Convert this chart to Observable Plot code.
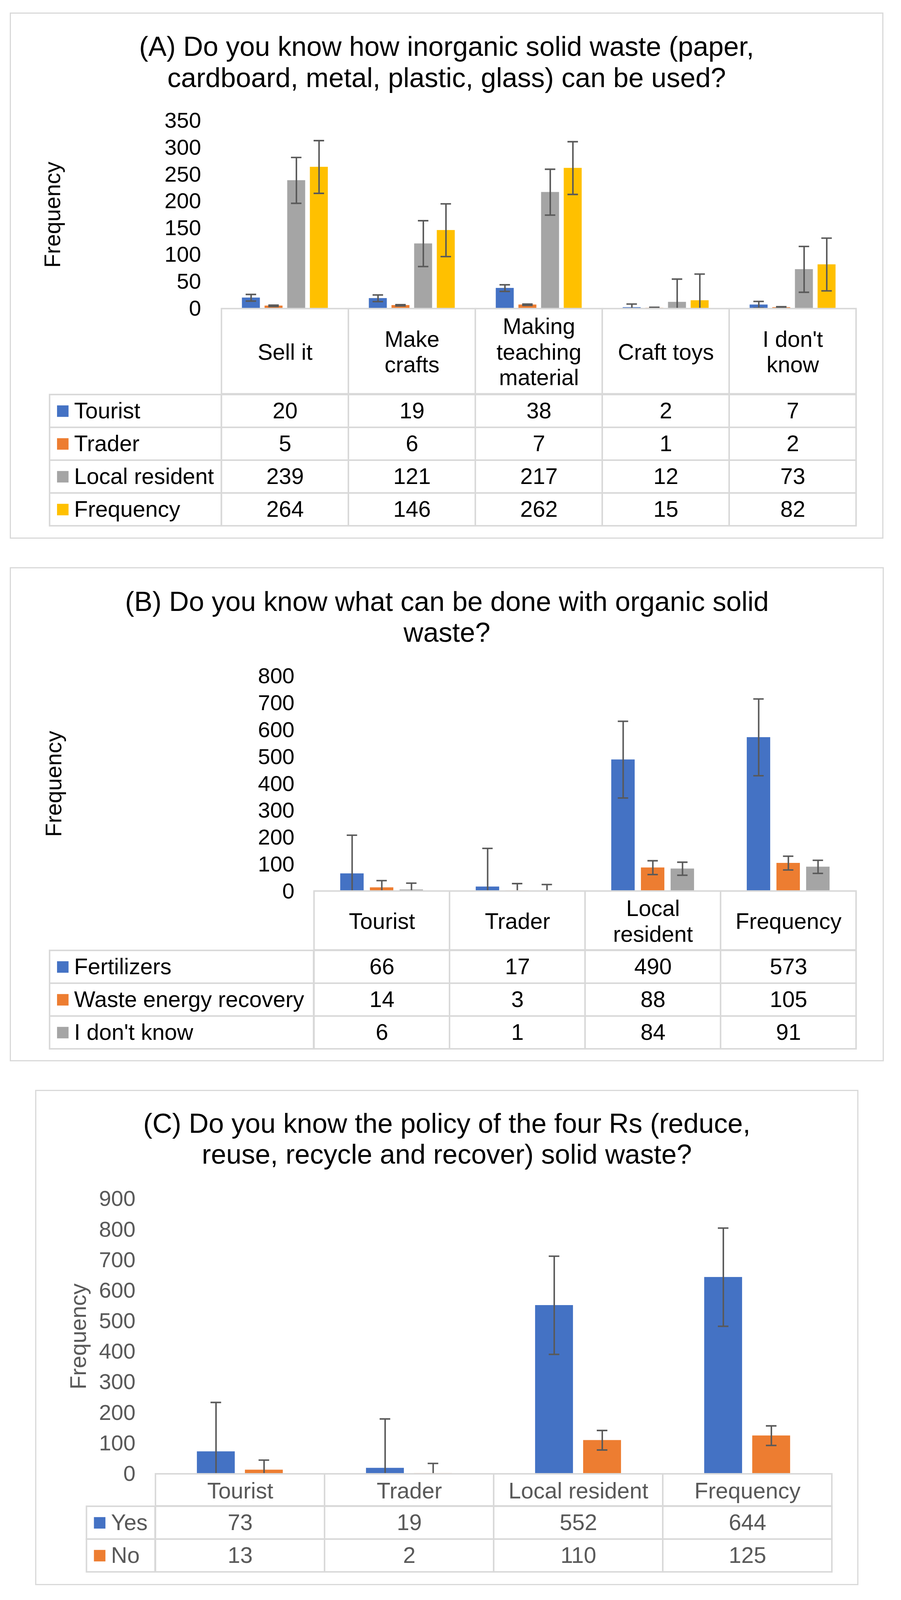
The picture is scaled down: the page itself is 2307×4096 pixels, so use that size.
<!DOCTYPE html>
<html>
<head>
<meta charset="utf-8">
<script src="https://cdn.jsdelivr.net/npm/d3@7"></script>
<script src="https://cdn.jsdelivr.net/npm/@observablehq/plot@0.6"></script>
<style>
  html, body { margin: 0; padding: 0; background: #fff; }
  #root { position: relative; width: 2307px; height: 4096px; overflow: hidden; background: #fff;
          font-family: "Liberation Sans", Arial, Helvetica, sans-serif; }
  .box { position: absolute; box-sizing: border-box; border-style: solid; border-color: #d9d9d9; }
  .title { position: absolute; text-align: center; white-space: pre; color: #000; }
</style>
</head>
<body>
<div id="root"></div>
<script>
// ---------------- DATA ----------------
// Panel A
const titleA = "(A) Do you know how inorganic solid waste (paper,\ncardboard, metal, plastic, glass) can be used?";
const catsA = ["Sell it", "Make\ncrafts", "Making\nteaching\nmaterial", "Craft toys", "I don't\nknow"];
const seriesA = ["Tourist", "Trader", "Local resident", "Frequency"];
const touristA = [20, 19, 38, 2, 7];
const traderA = [5, 6, 7, 1, 2];
const localA = [239, 121, 217, 12, 73];
const freqA = [264, 146, 262, 15, 82];
const errA = [6.2, 1.2, 42.8, 49.2];            // error bar half-lengths per series
const ticksA = [0, 50, 100, 150, 200, 250, 300, 350];

// Panel B
const titleB = "(B) Do you know what can be done with organic solid\nwaste?";
const catsB = ["Tourist", "Trader", "Local\nresident", "Frequency"];
const seriesB = ["Fertilizers", "Waste energy recovery", "I don't know"];
const fertB = [66, 17, 490, 573];
const wasteB = [14, 3, 88, 105];
const dontKnowB = [6, 1, 84, 91];
const errB = [142.8, 25.7, 24.3];
const ticksB = [0, 100, 200, 300, 400, 500, 600, 700, 800];

// Panel C
const titleC = "(C) Do you know the policy of the four Rs (reduce,\nreuse, recycle and recover) solid waste?";
const catsC = ["Tourist", "Trader", "Local resident", "Frequency"];
const seriesC = ["Yes", "No"];
const yesC = [73, 19, 552, 644];
const noC = [13, 2, 110, 125];
const errC = [160.8, 32.0];
const ticksC = [0, 100, 200, 300, 400, 500, 600, 700, 800, 900];

const palette = ["#4472C4", "#ED7D31", "#A5A5A5", "#FFC000"];

// ---------------- LAYOUT (reference pixel units, scaled by S) ----------------
const S = 2307 / 3290;
const W = 2307;
const FONT = '"Liberation Sans", Arial, Helvetica, sans-serif';
const GRID = "#d9d9d9";
const ERRC = "#595959";
const LINE = 5.5 * S;

const layoutA = { box: [38.6, 47.7, 3223, 1963.5], titleBase: 205.5, plotLeft: 808, plotRight: 3128,
  plotTop: 441.2, plotBottom: 1126, tickRight: 733, labelTop: 160, legendLeft: 181, rowsTop: 1437, rowsBottom: 1921 };
const layoutB = { box: [39, 2073, 3225, 3872], titleBase: 2231.5, plotLeft: 1145, plotRight: 3129,
  plotTop: 2468.3, plotBottom: 3253, tickRight: 1073, labelTop: 163, legendLeft: 181, rowsTop: 3468, rowsBottom: 3830 };
const layoutC = { box: [131.5, 3982, 3132, 5784], titleBase: 4136.8, plotLeft: 566, plotRight: 3039,
  plotTop: 4376.7, plotBottom: 5380, tickRight: 492.5, labelTop: 252.5, legendLeft: 315.7, rowsTop: 5497, rowsBottom: 5739 };

const root = document.getElementById("root");

function styleStr(fs, color) {
  return `background:transparent;overflow:visible;font-family:${FONT};font-size:${fs}px;color:${color};`;
}
function put(el, top) {
  el.style.position = "absolute";
  el.style.left = "0px";
  el.style.top = top + "px";
  el.style.maxWidth = "none";
  root.appendChild(el);
}

function buildPanel(p) {
  const L = p.layout;
  // frame box
  const box = document.createElement("div");
  box.className = "box";
  Object.assign(box.style, {
    left: (L.box[0] * S - LINE / 2) + "px", top: (L.box[1] * S - LINE / 2) + "px",
    width: ((L.box[2] - L.box[0]) * S + LINE) + "px", height: ((L.box[3] - L.box[1]) * S + LINE) + "px",
    borderWidth: LINE + "px"
  });
  root.appendChild(box);

  // title
  const F = 100 * S, LH = 113.5 * S;
  const t = document.createElement("div");
  t.className = "title";
  t.textContent = p.title;
  Object.assign(t.style, {
    left: L.box[0] * S + "px", width: (L.box[2] - L.box[0]) * S + "px",
    top: (L.titleBase * S - ((LH - 1.117 * F) / 2 + 0.905 * F)) + "px",
    fontSize: F + "px", lineHeight: LH + "px"
  });
  root.appendChild(t);

  const rows = p.series.flatMap((s, i) => p.cats.map((c, j) => ({cat: c, series: s, value: p.values[i][j], err: p.errs[i]})));
  const colors = palette.slice(0, p.series.length);
  const pl = L.plotLeft * S, pr = L.plotRight * S, pt = L.plotTop * S, pb = L.plotBottom * S;
  const n = p.series.length;
  const facetW = (pr - pl) / p.cats.length;
  const barW = facetW / (n + 0.27 * (n - 1) + 2.19);
  const capIns = (barW - 39 * S) / 2;
  const m = 45;
  const tickFs = 80 * S, textFs = 82 * S;

  // chart
  const chart = Plot.plot({
    width: W, height: (pb - pt) + 2 * m,
    marginLeft: pl, marginRight: W - pr, marginTop: m, marginBottom: m,
    style: styleStr(tickFs, p.textColor),
    fx: {domain: p.cats, padding: 0, axis: null},
    x: {domain: p.series, paddingInner: 0.27 / 1.27, paddingOuter: 2.19 / 2.54, axis: null},
    y: {domain: [0, p.ymax], ticks: p.ticks, tickSize: 0, tickPadding: (L.plotLeft - L.tickRight) * S, label: null},
    color: {domain: p.series, range: colors},
    marks: [
      Plot.barY(rows, {fx: "cat", x: "series", y: "value", fill: "series"}),
      Plot.ruleX(rows, {fx: "cat", x: "series", y1: d => d.value - d.err, y2: d => d.value + d.err,
        stroke: ERRC, strokeWidth: LINE, clip: true}),
      Plot.tickY(rows, {fx: "cat", x: "series", y: d => d.value + d.err, stroke: ERRC, strokeWidth: LINE,
        insetLeft: capIns, insetRight: capIns, clip: true}),
      Plot.tickY(rows, {fx: "cat", x: "series", y: d => d.value - d.err, stroke: ERRC, strokeWidth: LINE,
        insetLeft: capIns, insetRight: capIns, clip: true}),
      Plot.text(["Frequency"], {fx: () => p.cats[0], text: d => d, frameAnchor: "left", rotate: -90,
        textAnchor: "middle", lineAnchor: "top", dx: -(L.plotLeft - L.labelTop) * S,
        fontSize: textFs, fill: p.textColor})
    ]
  });
  put(chart, pt - m);

  const mh = 8;
  // header row (category names)
  const header = Plot.plot({
    width: W, height: (L.rowsTop - L.plotBottom) * S + 2 * mh,
    marginLeft: pl, marginRight: W - pr, marginTop: mh, marginBottom: mh,
    style: styleStr(textFs, p.textColor),
    x: {domain: p.cats, padding: 0, axis: null},
    marks: [
      Plot.cell(p.cats, {x: d => d, fill: "none", stroke: GRID, strokeWidth: LINE}),
      Plot.text(p.cats, {x: d => d, text: d => d, frameAnchor: "middle", lineHeight: 1.14, fill: p.textColor})
    ]
  });
  put(header, pb - mh);

  // values table
  const values = Plot.plot({
    width: W, height: (L.rowsBottom - L.rowsTop) * S + 2 * mh,
    marginLeft: pl, marginRight: W - pr, marginTop: mh, marginBottom: mh,
    style: styleStr(textFs, p.textColor),
    x: {domain: p.cats, padding: 0, axis: null},
    y: {domain: p.series, padding: 0, axis: null},
    marks: [
      Plot.cell(rows, {x: "cat", y: "series", fill: "none", stroke: GRID, strokeWidth: LINE}),
      Plot.text(rows, {x: "cat", y: "series", text: d => String(d.value), fill: p.textColor})
    ]
  });
  put(values, L.rowsTop * S - mh);

  // legend column
  const legend = Plot.plot({
    width: W, height: (L.rowsBottom - L.rowsTop) * S + 2 * mh,
    marginLeft: L.legendLeft * S, marginRight: W - pl, marginTop: mh, marginBottom: mh,
    style: styleStr(textFs, p.textColor),
    y: {domain: p.series, padding: 0, axis: null},
    color: {domain: p.series, range: colors},
    marks: [
      Plot.cell(p.series, {y: d => d, fill: "none", stroke: GRID, strokeWidth: LINE}),
      Plot.dot(p.series, {y: d => d, frameAnchor: "left", dx: (26.5 + 21) * S, symbol: "square",
        r: 42 * S / Math.sqrt(Math.PI), fill: d => d}),
      Plot.text(p.series, {y: d => d, text: d => d, frameAnchor: "left", textAnchor: "start",
        dx: 89 * S, fill: p.textColor})
    ]
  });
  put(legend, L.rowsTop * S - mh);
}

buildPanel({title: titleA, cats: catsA, series: seriesA, values: [touristA, traderA, localA, freqA],
  errs: errA, ticks: ticksA, ymax: 350, layout: layoutA, textColor: "#000000"});
buildPanel({title: titleB, cats: catsB, series: seriesB, values: [fertB, wasteB, dontKnowB],
  errs: errB, ticks: ticksB, ymax: 800, layout: layoutB, textColor: "#000000"});
buildPanel({title: titleC, cats: catsC, series: seriesC, values: [yesC, noC],
  errs: errC, ticks: ticksC, ymax: 900, layout: layoutC, textColor: "#595959"});
</script>
</body>
</html>
